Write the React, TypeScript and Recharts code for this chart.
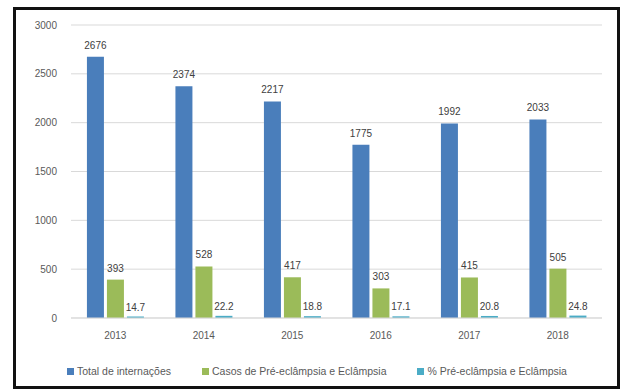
import { BarChart, Bar, XAxis, YAxis, CartesianGrid, Legend, LabelList } from "recharts";

/* ── Data ───────────────────────────────────────────── */

const years = ["2013", "2014", "2015", "2016", "2017", "2018"];
const totalInternacoes = [2676, 2374, 2217, 1775, 1992, 2033];
const casosPreEclampsia = [393, 528, 417, 303, 415, 505];
const pctPreEclampsia = [14.7, 22.2, 18.8, 17.1, 20.8, 24.8];
const yTicks = [0, 500, 1000, 1500, 2000, 2500, 3000];
const seriesNames = [
  "Total de internações",
  "Casos de Pré-eclâmpsia e Eclâmpsia",
  "% Pré-eclâmpsia e Eclâmpsia",
];

const rows = years.map((year, i) => ({
  year,
  total: totalInternacoes[i],
  casos: casosPreEclampsia[i],
  pct: pctPreEclampsia[i],
}));

/* ── Style ──────────────────────────────────────────── */

const BLUE = "#4a7ebb";
const GREEN = "#9bbb59";
const CYAN = "#4bacc6";
const GRID = "#d9d9d9";
const TEXT = "#595959";
const FONT = "'Liberation Sans', Arial, sans-serif";

const labelStyle = { fill: "#404040", fontSize: 10, fontFamily: FONT };

// legend keeps the series order (recharts sorts by name otherwise)
function LegendContent({ payload }: { payload?: { value: string; color: string }[] }) {
  const items = [...(payload ?? [])].sort(
    (a, b) => seriesNames.indexOf(a.value) - seriesNames.indexOf(b.value),
  );
  return (
    <div style={{ display: "flex", gap: 31, paddingTop: 17, fontFamily: FONT, fontSize: 10.5, color: TEXT }}>
      {items.map((p) => (
        <div key={p.value} style={{ display: "flex", alignItems: "center" }}>
          <span style={{ width: 7, height: 7, background: p.color, marginRight: 3, display: "inline-block" }} />
          {p.value}
        </div>
      ))}
    </div>
  );
}

export default function App() {
  return (
    <div style={{ position: "absolute", left: 0, top: 0, width: 622, height: 392, background: "white" }}>
      <div
        style={{
          position: "absolute", left: 13, top: 7, width: 601, height: 376,
          border: "3px solid #111", background: "white",
        }}
      />
      <div style={{ position: "absolute", left: 0, top: 0 }}>
        <BarChart
          width={622}
          height={392}
          data={rows}
          margin={{ top: 25, right: 20, left: 20, bottom: 14 }}
          barGap={3}
          barCategoryGap="18%"
        >
          <CartesianGrid stroke={GRID} vertical={false} />
          <XAxis
            dataKey="year"
            axisLine={{ stroke: GRID }}
            tickLine={false}
            tickMargin={8}
            height={30}
            tick={{ fill: TEXT, fontSize: 10, fontFamily: FONT }}
          />
          <YAxis
            domain={[0, 3000]}
            ticks={yTicks}
            axisLine={false}
            tickLine={false}
            tickMargin={8}
            width={51}
            tick={{ fill: TEXT, fontSize: 10, fontFamily: FONT }}
          />
          <Legend
            verticalAlign="bottom"
            height={30}
            wrapperStyle={{ left: 67, width: 540 }}
            content={<LegendContent />}
          />
          <Bar dataKey="total" name={seriesNames[0]} fill={BLUE} isAnimationActive={false}>
            <LabelList dataKey="total" position="top" offset={8} style={labelStyle} />
          </Bar>
          <Bar dataKey="casos" name={seriesNames[1]} fill={GREEN} isAnimationActive={false}>
            <LabelList dataKey="casos" position="top" offset={8} style={labelStyle} />
          </Bar>
          <Bar dataKey="pct" name={seriesNames[2]} fill={CYAN} isAnimationActive={false}>
            <LabelList dataKey="pct" position="top" offset={6} style={labelStyle} />
          </Bar>
        </BarChart>
      </div>
    </div>
  );
}
